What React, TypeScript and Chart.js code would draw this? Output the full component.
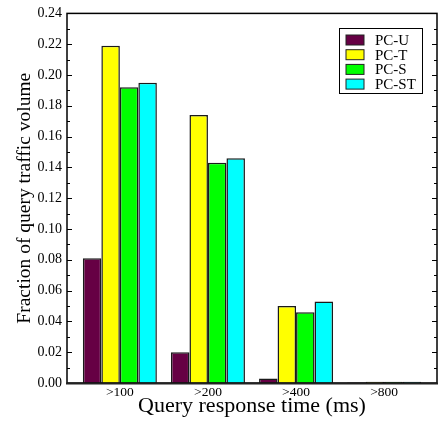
import React, { useEffect, useRef } from "react";
import { Chart, registerables } from "chart.js";

Chart.register(...registerables);

const categories = [">100", ">200", ">400", ">800"];
const seriesNames = ["PC-U", "PC-T", "PC-S", "PC-ST"];
const pcU = [0.081, 0.02, 0.003, 0.0004];
const pcT = [0.219, 0.174, 0.05, 0.0008];
const pcS = [0.192, 0.143, 0.046, 0.0008];
const pcST = [0.195, 0.146, 0.053, 0.0008];
const colors = ["#660044", "#ffff00", "#00ff00", "#00ffff"];
const yTicks = [0, 0.02, 0.04, 0.06, 0.08, 0.1, 0.12, 0.14, 0.16, 0.18, 0.2, 0.22, 0.24];

const FONT = "'Liberation Serif', 'Times New Roman', serif";

const framePlugin = {
  id: "frame",
  afterDatasetsDraw(chart: any) {
    const { ctx, chartArea } = chart;
    const { left, right, top, bottom } = chartArea;
    const y = chart.scales.y;
    ctx.save();
    ctx.strokeStyle = "#000";
    ctx.lineWidth = 1;
    for (let i = 0; i <= 24; i++) {
      const v = i * 0.01;
      const py = Math.round(y.getPixelForValue(v)) + 0.5;
      const len = i % 2 === 0 ? 5 : 3;
      ctx.beginPath();
      ctx.moveTo(left, py);
      ctx.lineTo(left + len, py);
      ctx.moveTo(right, py);
      ctx.lineTo(right - len, py);
      ctx.stroke();
    }
    ctx.lineWidth = 1.5;
    ctx.strokeRect(left, top, right - left, bottom - top);
    ctx.lineWidth = 2.2;
    ctx.strokeStyle = "#222";
    ctx.beginPath();
    ctx.moveTo(left - 1, bottom + 0.5);
    ctx.lineTo(right + 1, bottom + 0.5);
    ctx.stroke();

    // legend
    const lx = 339, ly = 28, lw = 83, lh = 65;
    ctx.fillStyle = "#fff";
    ctx.fillRect(lx, ly, lw, lh);
    ctx.lineWidth = 1;
    ctx.strokeStyle = "#000";
    ctx.strokeRect(lx + 0.5, ly + 0.5, lw, lh);
    ctx.font = `15px ${FONT}`;
    ctx.textBaseline = "middle";
    ctx.textAlign = "left";
    seriesNames.forEach((name, i) => {
      const cy = 40 + i * 14.7;
      ctx.fillStyle = colors[i];
      ctx.fillRect(346, cy - 5, 18, 10);
      ctx.strokeStyle = "#222";
      ctx.lineWidth = 1;
      ctx.strokeRect(346, cy - 5, 18, 10);
      ctx.fillStyle = "#000";
      ctx.fillText(name, 375, cy + 1);
    });
    ctx.restore();
  },
};

export default function App() {
  const ref = useRef<HTMLCanvasElement>(null);
  useEffect(() => {
    const all = [pcU, pcT, pcS, pcST];
    const chart = new Chart(ref.current!, {
      type: "bar",
      data: {
        datasets: all.map((arr, i) => ({
          label: seriesNames[i],
          data: arr.map((v, k) => ({ x: k, y: v })),
          backgroundColor: colors[i],
          borderColor: "#1a1a1a",
          borderWidth: 1.5,
          categoryPercentage: 0.84,
          barPercentage: 1.0,
        })),
      },
      options: {
        animation: false,
        responsive: false,
        maintainAspectRatio: false,
        layout: { padding: { left: 0, right: 10, top: 12, bottom: 0 } },
        plugins: { legend: { display: false }, tooltip: { enabled: false } },
        scales: {
          x: {
            type: "linear",
            offset: false,
            min: -0.6,
            max: 3.6,
            afterBuildTicks: (s: any) => {
              s.ticks = categories.map((_, i) => ({ value: i }));
            },
            afterFit: (s: any) => {
              s.height = 39;
            },
            grid: { display: false, drawTicks: false, offset: false },
            border: { display: false },
            ticks: {
              callback: (v: any) => categories[v] ?? "",
              color: "#000",
              font: { family: FONT, size: 13.5 },
              padding: 1,
              autoSkip: false,
              maxRotation: 0,
            },
            title: {
              display: true,
              text: "Query response time (ms)",
              color: "#000",
              font: { family: FONT, size: 22 },
              padding: { top: 0, bottom: 3 },
            },
          },
          y: {
            min: 0,
            max: 0.24,
            afterBuildTicks: (s: any) => {
              s.ticks = yTicks.map((v) => ({ value: v }));
            },
            afterFit: (s: any) => {
              s.width = 67;
            },
            grid: { display: false, drawTicks: false },
            border: { display: false },
            ticks: {
              callback: (v: any) => Number(v).toFixed(2),
              color: "#000",
              font: { family: FONT, size: 14 },
              padding: 5,
            },
            title: {
              display: true,
              text: "Fraction of query traffic volume",
              color: "#000",
              font: { family: FONT, size: 19.5 },
              padding: { top: 13, bottom: 0 },
            },
          },
        },
      },
      plugins: [framePlugin],
    });
    return () => chart.destroy();
  }, []);
  return (
    <div style={{ position: "fixed", left: 0, top: 0, width: 447, height: 422 }}>
      <canvas ref={ref} width={447} height={422} style={{ width: 447, height: 422 }} />
    </div>
  );
}
